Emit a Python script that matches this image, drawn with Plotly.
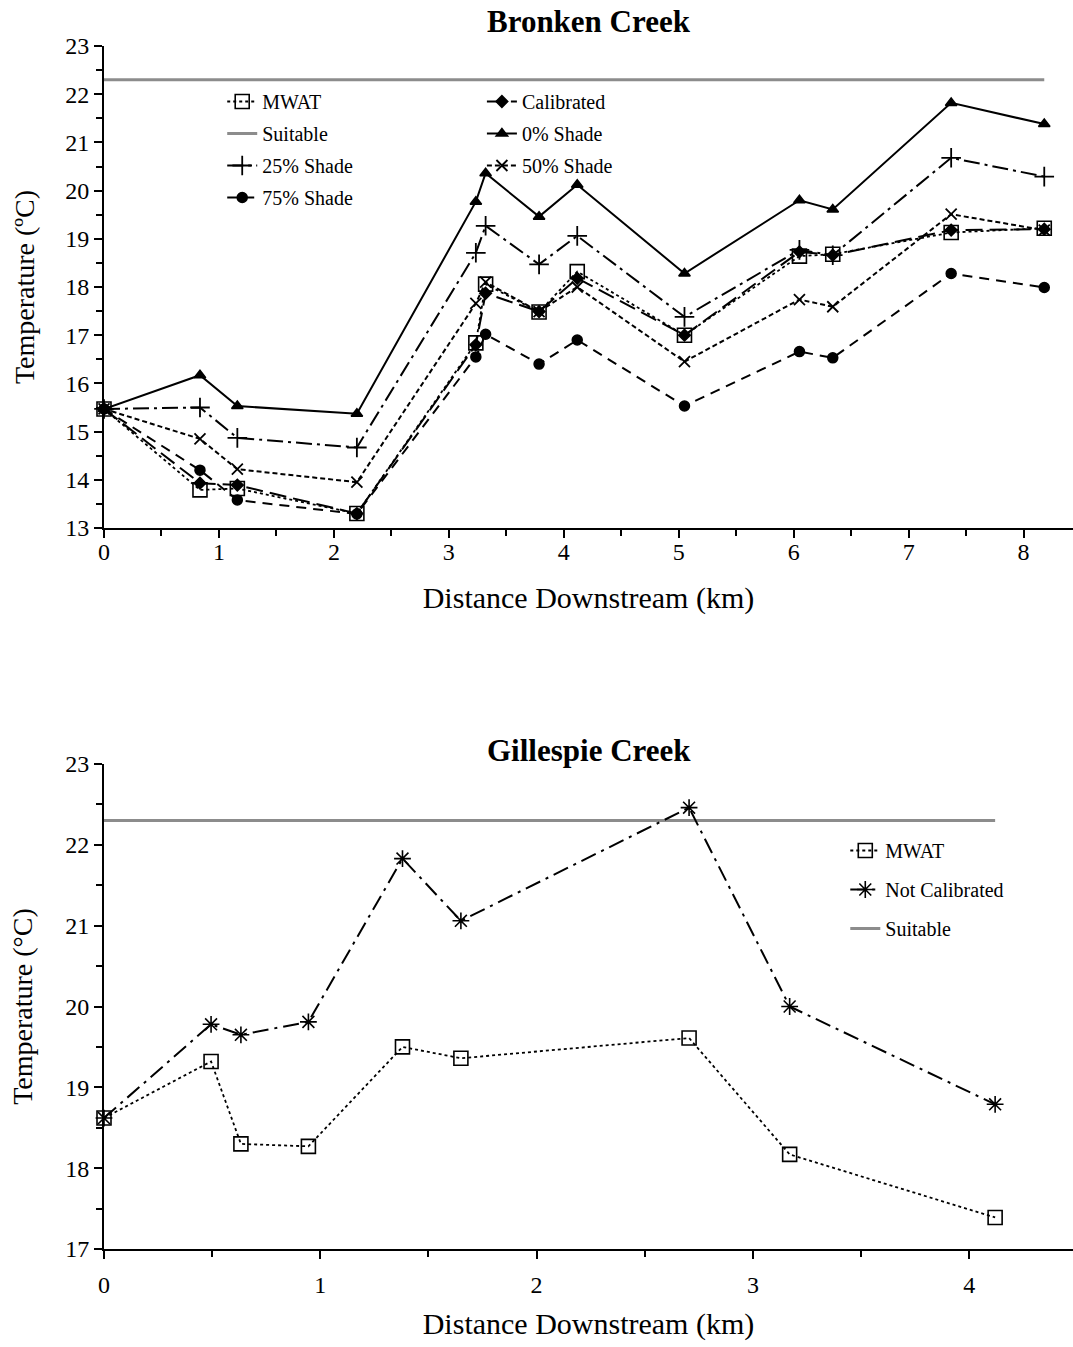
import plotly.graph_objects as go

# ---------------- Data ----------------
# Bronken Creek
x_bronken = [0, 0.835, 1.16, 2.2, 3.235, 3.32, 3.785, 4.117, 5.05, 6.05, 6.34, 7.37, 8.18]
mwat_b = [15.47, 13.79, 13.82, 13.30, 16.84, 18.06, 17.48, 18.32, 17.00, 18.64, 18.68, 19.13, 19.22]
calibrated_b = [15.47, 13.93, 13.89, 13.30, 16.80, 17.87, 17.49, 18.18, 17.00, 18.73, 18.66, 19.18, 19.20]
shade0_b = [15.47, 16.17, 15.53, 15.37, 19.77, 20.36, 19.46, 20.12, 18.28, 19.80, 19.61, 21.82, 21.38]
shade25_b = [15.47, 15.50, 14.87, 14.67, 18.71, 19.27, 18.47, 19.06, 17.38, 18.77, 18.66, 20.68, 20.29]
shade50_b = [15.47, 14.85, 14.22, 13.95, 17.66, 18.10, 17.49, 18.00, 16.45, 17.74, 17.59, 19.51, 19.18]
shade75_b = [15.47, 14.20, 13.58, 13.29, 16.55, 17.02, 16.40, 16.90, 15.53, 16.66, 16.53, 18.28, 17.99]
suitable_x_b = [0, 8.18]
suitable_b = [22.3, 22.3]

# Gillespie Creek
x_gillespie = [0, 0.495, 0.633, 0.945, 1.38, 1.65, 2.705, 3.17, 4.12]
mwat_g = [18.62, 19.32, 18.30, 18.27, 19.50, 19.36, 19.61, 18.17, 17.39]
notcal_g = [18.62, 19.78, 19.65, 19.81, 21.83, 21.06, 22.46, 20.00, 18.79]
suitable_x_g = [0, 4.12]
suitable_g = [22.3, 22.3]

# ---------------- Style ----------------
FONT = "Liberation Serif"
W, H = 1073, 1347
BLACK = "black"
GRAY = "#8c8c8c"


def ptop(px):
    return 1 - px / H


fig = go.Figure()

def add(x, y, name, xa, ya, legend, rank, dash, width, symbol, msize, mline=1.5, color=BLACK, mode="lines+markers"):
    fig.add_trace(go.Scatter(
        x=x, y=y, name=name, xaxis=xa, yaxis=ya, mode=mode,
        legend=legend, legendgroup=name + xa, legendrank=rank,
        line=dict(color=color, width=width, dash=dash),
        marker=dict(symbol=symbol, size=msize, color=color,
                    line=dict(color=color, width=mline)),
        cliponaxis=False,
    ))

# Top chart
add(suitable_x_b, suitable_b, "Suitable", "x", "y", "legend", 2, "solid", 3, "circle", 1, color=GRAY, mode="lines")
add(x_bronken, shade75_b, "75% Shade", "x", "y", "legend", 4, "10px,7px", 2, "circle", 10)
add(x_bronken, shade50_b, "50% Shade", "x", "y", "legend2", 3, "5px,3px", 2, "x-thin-open", 11, 1.8)
add(x_bronken, shade25_b, "25% Shade", "x", "y", "legend", 3, "16px,5px,3px,5px", 2, "cross-thin-open", 14, 1.8)
add(x_bronken, shade0_b, "0% Shade", "x", "y", "legend2", 2, "solid", 2, "triangle-up", 10)
add(x_bronken, calibrated_b, "Calibrated", "x", "y", "legend2", 1, "17px,7px", 2, "diamond", 9)
add(x_bronken, mwat_b, "MWAT", "x", "y", "legend", 1, "dot", 1.8, "square-open", 14, 1.6)

# Bottom chart
add(suitable_x_g, suitable_g, "Suitable", "x2", "y2", "legend3", 3, "solid", 3, "circle", 1, color=GRAY, mode="lines")
add(x_gillespie, notcal_g, "Not Calibrated", "x2", "y2", "legend3", 2, "16px,6px,3px,6px", 2, "asterisk-open", 14, 1.6)
add(x_gillespie, mwat_g, "MWAT", "x2", "y2", "legend3", 1, "dot", 1.8, "square-open", 14, 1.6)

axis_common = dict(
    showline=True, linecolor=BLACK, linewidth=2,
    ticks="outside", ticklen=8, tickwidth=2, tickcolor=BLACK,
    showgrid=False, zeroline=False, automargin=False,
    tickfont=dict(family=FONT, size=24, color=BLACK),
)
minor = dict(dtick=0.5, ticks="outside", ticklen=6, tickwidth=2, tickcolor=BLACK)

fig.update_layout(
    width=W, height=H,
    paper_bgcolor="white", plot_bgcolor="white",
    margin=dict(l=104, r=0, t=0, b=0, autoexpand=False),
    font=dict(family=FONT, color=BLACK),
    xaxis=dict(**axis_common, domain=[0, 1], anchor="y", range=[0, 8.43], dtick=1, minor=minor,
               ticklabelstandoff=-7,
               title=dict(text="Distance Downstream (km)", font=dict(family=FONT, size=30), standoff=23)),
    yaxis=dict(**axis_common, domain=[ptop(528), ptop(46)], anchor="x", range=[13, 23], dtick=1, minor=minor,
               title=dict(text="Temperature (ºC)", font=dict(family=FONT, size=28), standoff=22)),
    xaxis2=dict(**axis_common, domain=[0, 1], anchor="y2", range=[0, 4.48], dtick=1, minor=minor,
                ticklabelstandoff=5,
                title=dict(text="Distance Downstream (km)", font=dict(family=FONT, size=30), standoff=16)),
    yaxis2=dict(**axis_common, domain=[ptop(1249), ptop(764)], anchor="x2", range=[17, 23], dtick=1, minor=minor,
                title=dict(text="Temperature (°C)", font=dict(family=FONT, size=28), standoff=24)),
    legend=dict(x=0.122, y=ptop(82), xanchor="left", yanchor="top", bgcolor="rgba(0,0,0,0)",
                font=dict(family=FONT, size=20, color=BLACK), tracegroupgap=3),
    legend2=dict(x=0.39, y=ptop(82), xanchor="left", yanchor="top", bgcolor="rgba(0,0,0,0)",
                 font=dict(family=FONT, size=20, color=BLACK), tracegroupgap=3),
    legend3=dict(x=0.765, y=ptop(831), xanchor="left", yanchor="top", bgcolor="rgba(0,0,0,0)",
                 font=dict(family=FONT, size=20, color=BLACK), tracegroupgap=10),
    annotations=[
        dict(text="<b>Bronken Creek</b>", xref="x domain", yref="paper", x=0.5, y=ptop(22),
             xanchor="center", yanchor="middle", showarrow=False,
             font=dict(family=FONT, size=31, color=BLACK)),
        dict(text="<b>Gillespie Creek</b>", xref="x2 domain", yref="paper", x=0.5, y=ptop(750),
             xanchor="center", yanchor="middle", showarrow=False,
             font=dict(family=FONT, size=31, color=BLACK)),
    ],
)

post = ("document.body.style.margin='0';"
        "document.body.style.overflow='hidden';"
        "Plotly.relayout(document.getElementById('{plot_id}'), {width: 1073, height: 1347});")

fig.write_html("out.html", post_script=post,
               config={"responsive": False, "displayModeBar": False})
